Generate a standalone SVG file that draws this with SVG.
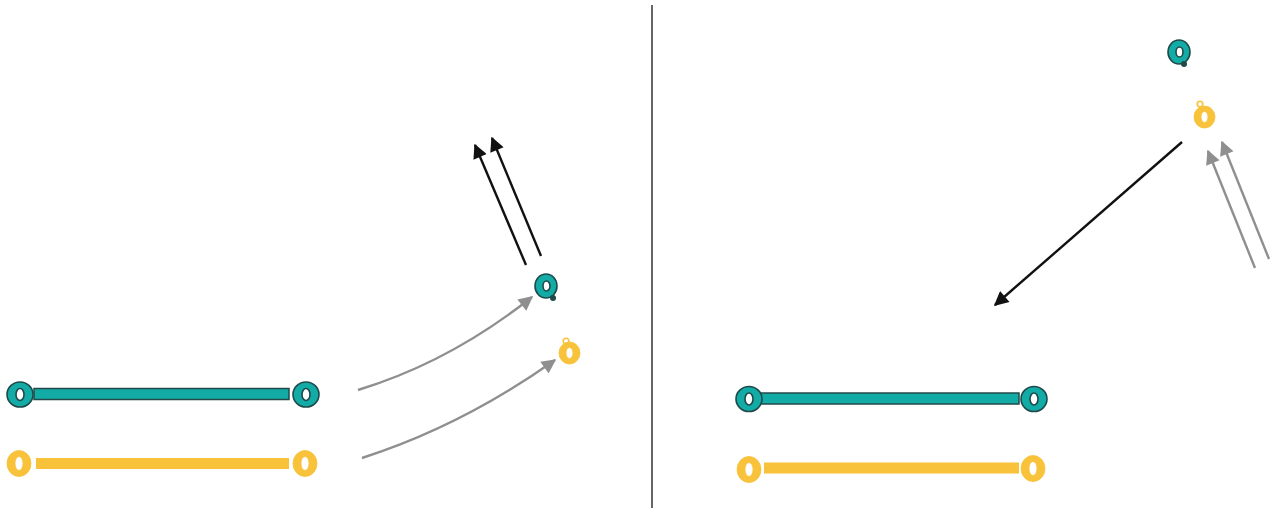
<svg xmlns="http://www.w3.org/2000/svg" width="1275" height="510" viewBox="0 0 1275 510">
<style>
.teal{fill:#13aba6;stroke:#1f4a4a;stroke-width:1.6;fill-rule:evenodd}
.yel{fill:#f8c23a;stroke:#f8c23a;stroke-width:0.8;fill-rule:evenodd}
.bar-t{fill:#13aba6;stroke:#24494a;stroke-width:1.5}
.bar-y{fill:#f8c23a}
.blk{stroke:#111;stroke-width:2.4;fill:none}
.gry{stroke:#8f8f8f;stroke-width:2.4;fill:none}
</style>
<defs>
<marker id="ab" viewBox="0 0 10 10" refX="9" refY="5" markerWidth="6.5" markerHeight="6" markerUnits="strokeWidth" orient="auto"><path d="M0,0 L10,5 L0,10 z" fill="#111"/></marker>
<marker id="ag" viewBox="0 0 10 10" refX="9" refY="5" markerWidth="6.5" markerHeight="6" markerUnits="strokeWidth" orient="auto"><path d="M0,0 L10,5 L0,10 z" fill="#8f8f8f"/></marker>
</defs>
<rect width="1275" height="510" fill="#fff"/>
<line x1="652" y1="5" x2="652" y2="508" stroke="#333" stroke-width="1.5"/>

<g id="left-teal-bar">
<rect class="bar-t" x="34" y="388.5" width="255" height="11"/>
<path class="teal" d="M7,394.5 a13,12.5 0 1,0 26,0 a13,12.5 0 1,0 -26,0 z M16,394.5 a4,6 0 1,0 8,0 a4,6 0 1,0 -8,0 z"/>
<path class="teal" d="M293,394.5 a13,12.5 0 1,0 26,0 a13,12.5 0 1,0 -26,0 z M302,394.5 a4,6 0 1,0 8,0 a4,6 0 1,0 -8,0 z"/>
</g>
<g id="left-yellow-bar">
<rect class="bar-y" x="36" y="458" width="253" height="11"/>
<path class="yel" d="M7,463.5 a12,13 0 1,0 24,0 a12,13 0 1,0 -24,0 z M15,463.5 a4,7 0 1,0 8,0 a4,7 0 1,0 -8,0 z"/>
<path class="yel" d="M293,463.5 a12,13 0 1,0 24,0 a12,13 0 1,0 -24,0 z M301,463.5 a4,7 0 1,0 8,0 a4,7 0 1,0 -8,0 z"/>
</g>
<g id="left-teal-dot">
<path class="teal" d="M535,286 a11,12 0 1,0 22,0 a11,12 0 1,0 -22,0 z M543,286 a3.5,5 0 1,0 7,0 a3.5,5 0 1,0 -7,0 z"/>
<circle cx="553" cy="298" r="3" fill="#1f4a4a"/>
</g>
<g id="left-yellow-dot">
<path class="yel" d="M559,353 a10.5,11 0 1,0 21,0 a10.5,11 0 1,0 -21,0 z M566,353 a3.5,5.5 0 1,0 7,0 a3.5,5.5 0 1,0 -7,0 z"/>
<circle cx="566" cy="341" r="2.8" fill="none" stroke="#f8c23a" stroke-width="1.6"/>
</g>

<g id="right-teal-bar">
<rect class="bar-t" x="761" y="393" width="258" height="11"/>
<path class="teal" d="M736,399 a13,12.5 0 1,0 26,0 a13,12.5 0 1,0 -26,0 z M745,399 a4,6 0 1,0 8,0 a4,6 0 1,0 -8,0 z"/>
<path class="teal" d="M1021,399 a13,12.5 0 1,0 26,0 a13,12.5 0 1,0 -26,0 z M1030,399 a4,6 0 1,0 8,0 a4,6 0 1,0 -8,0 z"/>
</g>
<g id="right-yellow-bar">
<rect class="bar-y" x="764" y="462.5" width="255" height="11"/>
<path class="yel" d="M737,469.5 a12,13 0 1,0 24,0 a12,13 0 1,0 -24,0 z M745,469.5 a4,7 0 1,0 8,0 a4,7 0 1,0 -8,0 z"/>
<path class="yel" d="M1021,468.5 a12,13 0 1,0 24,0 a12,13 0 1,0 -24,0 z M1029,468.5 a4,7 0 1,0 8,0 a4,7 0 1,0 -8,0 z"/>
</g>
<g id="right-teal-dot">
<path class="teal" d="M1168,52 a11,12 0 1,0 22,0 a11,12 0 1,0 -22,0 z M1176,52 a3.5,5 0 1,0 7,0 a3.5,5 0 1,0 -7,0 z"/>
<circle cx="1184" cy="64" r="3" fill="#1f4a4a"/>
</g>
<g id="right-yellow-dot">
<path class="yel" d="M1194,117 a10.5,11 0 1,0 21,0 a10.5,11 0 1,0 -21,0 z M1201,117 a3.5,5.5 0 1,0 7,0 a3.5,5.5 0 1,0 -7,0 z"/>
<circle cx="1200" cy="104" r="2.8" fill="none" stroke="#f8c23a" stroke-width="1.6"/>
</g>

<g id="connectors">
<path class="gry" marker-end="url(#ag)" d="M358,390 Q450,362 532,297"/>
<path class="gry" marker-end="url(#ag)" d="M362,458 Q462,426 555,360"/>
<line class="blk" marker-end="url(#ab)" x1="526" y1="265" x2="475" y2="145"/>
<line class="blk" marker-end="url(#ab)" x1="541" y1="256" x2="492" y2="138"/>
<line class="blk" marker-end="url(#ab)" x1="1182" y1="142" x2="995" y2="305"/>
<line class="gry" marker-end="url(#ag)" x1="1255" y1="268" x2="1208" y2="151"/>
<line class="gry" marker-end="url(#ag)" x1="1269" y1="259" x2="1222" y2="142"/>
</g>
</svg>
